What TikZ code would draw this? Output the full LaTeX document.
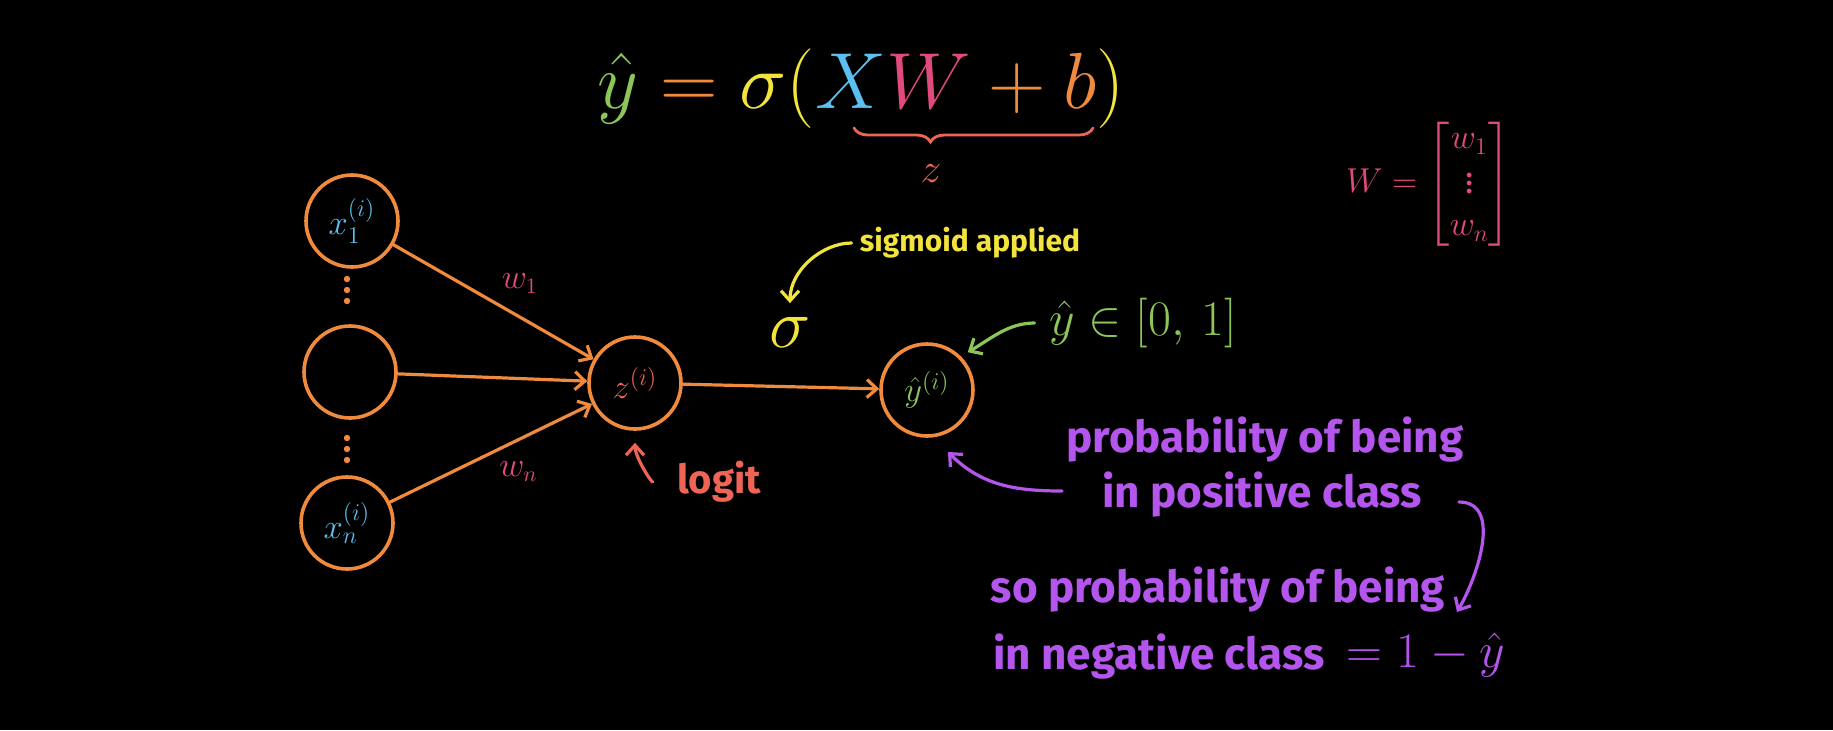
\documentclass[tikz,border=0pt]{standalone}
\usepackage{amsmath,amssymb}
\usepackage{fontspec}
\setmainfont{Fira Sans}
\usetikzlibrary{arrows.meta,decorations.pathreplacing}

\definecolor{lineorange}{HTML}{F08A3C}
\definecolor{inputblue}{HTML}{5BC0F0}
\definecolor{logitred}{HTML}{EE6455}
\definecolor{predgreen}{HTML}{8CC65A}
\definecolor{sigyellow}{HTML}{F2E33D}
\definecolor{weightpink}{HTML}{E04A7E}
\definecolor{probpurple}{HTML}{B455EE}

\begin{document}
\begin{tikzpicture}[
  x=0.5pt,
  y=0.5pt,
  neuron/.style={
    circle,
    draw=lineorange,
    line width=1.8pt,
    minimum size=46pt,
    inner sep=0pt,
    font=\fontsize{18}{20}\selectfont
  },
  edge/.style={
    draw=lineorange,
    line width=1.6pt,
    line cap=round,
    -{Straight Barb[length=5pt,width=9pt]}
  },
  note/.style={
    line width=1.6pt,
    line cap=round,
    -{Straight Barb[length=5pt,width=9pt]}
  },
  weight/.style={text=weightpink, font=\fontsize{16}{18}\selectfont},
  hand/.style={font=\fontsize{#1}{#1}\selectfont\bfseries, inner sep=0pt},
  bigmath/.style={font=\fontsize{24.88}{30}\selectfont, scale=#1, transform shape}
]

% Coordinates follow the pixel grid of the sketch (1 unit = 1 px, y downwards negative).
\fill[black] (0,0) rectangle (1833,-730);
\useasboundingbox (0,0) rectangle (1833,-730);

% formula on top
\node[bigmath=1.6, anchor=base] (eqn) at (861,-108)
  {$\textcolor{predgreen}{\hat{y}} \mathrel{\color{lineorange}=}
    \textcolor{sigyellow}{\sigma} \mathopen{\color{sigyellow}(}
    \textcolor{inputblue}{X}\textcolor{weightpink}{W}
    \mathbin{\color{lineorange}+} \textcolor{lineorange}{b}
    \mathclose{\color{sigyellow})}$};
\draw[logitred, line width=1.4pt, line cap=round,
      decorate, decoration={brace, mirror, amplitude=7pt, aspect=0.32}]
  (854,-128) -- (1093,-128);
\node[text=logitred, font=\fontsize{20.74}{24}\selectfont] (zlab) at (931,-174) {$z$};

% weight vector
\node[text=weightpink, font=\fontsize{17.28}{21}\selectfont] (wvec) at (1429,-184)
  {$W = \begin{bmatrix} w_1 \\ \vdots \\ w_n \end{bmatrix}$};

% network
\node[neuron, text=inputblue] (x1) at (352,-221) {$x_1^{(i)}$};
\node[neuron]                 (xm) at (350,-372) {};
\node[neuron, text=inputblue] (xn) at (347,-523) {$x_n^{(i)}$};
\node[neuron, text=logitred]  (z)  at (635,-383) {$z^{(i)}$};
\node[neuron, text=predgreen] (yhat) at (927,-390) {$\hat{y}^{(i)}$};

\foreach \y in {-279,-290,-301,-438,-449,-460}
  \fill[lineorange] (347,\y) circle (1.6pt);

\draw[edge] (x1) -- node[weight, above right] (w1lab) {$w_1$} (z);
\draw[edge] (xm) -- (z);
\draw[edge] (xn) -- node[weight, below right] (wnlab) {$w_n$} (z);
\draw[edge] (z) -- (yhat);

% annotations
\node[text=logitred, hand=20] (logit) at (719,-482) {logit};
\draw[note, draw=logitred, shorten <=12pt, shorten >=6pt]
  (logit.west) to[out=180, in=-90] (z.south);

\node[text=sigyellow, bigmath=1.4] (sig) at (790,-332) {$\sigma$};
\node[text=sigyellow, hand=15] (sigtxt) at (970,-243) {sigmoid applied};
\draw[note, draw=sigyellow, shorten <=4pt, shorten >=2pt]
  (sigtxt.west) to[out=180, in=90] (sig.north);

\node[text=predgreen, font=\fontsize{24.88}{27}\selectfont] (yrange) at (1143,-323)
  {$\hat{y} \in [0,\, 1]$};
\draw[note, draw=predgreen, shorten <=4pt, shorten >=4pt]
  (yrange.west) to[out=180, in=30] (yhat.45);

\node[text=probpurple, hand=22] (pos1) at (1265,-440) {probability of being};
\node[text=probpurple, hand=22] (pos2) at (1262,-495) {in positive class};
\node[text=probpurple, hand=22] (neg1) at (1218,-590) {so probability of being};
\node[text=probpurple, hand=22] (neg2) at (1159,-657) {in negative class};
\node[text=probpurple, font=\fontsize{24.88}{27}\selectfont] (oneminus) at (1426,-655)
  {$= 1 - \hat{y}$};

\coordinate (ptail) at (1062,-491);
\coordinate (ptip)  at (948,-452);
\coordinate (ntail) at (1459,-502);
\coordinate (ntip)  at (1457,-612);
\draw[note, draw=probpurple] (ptail) to[out=180, in=-45] (ptip);
\draw[note, draw=probpurple] (ntail) to[out=0, in=60] (ntip);

\end{tikzpicture}
\end{document}
